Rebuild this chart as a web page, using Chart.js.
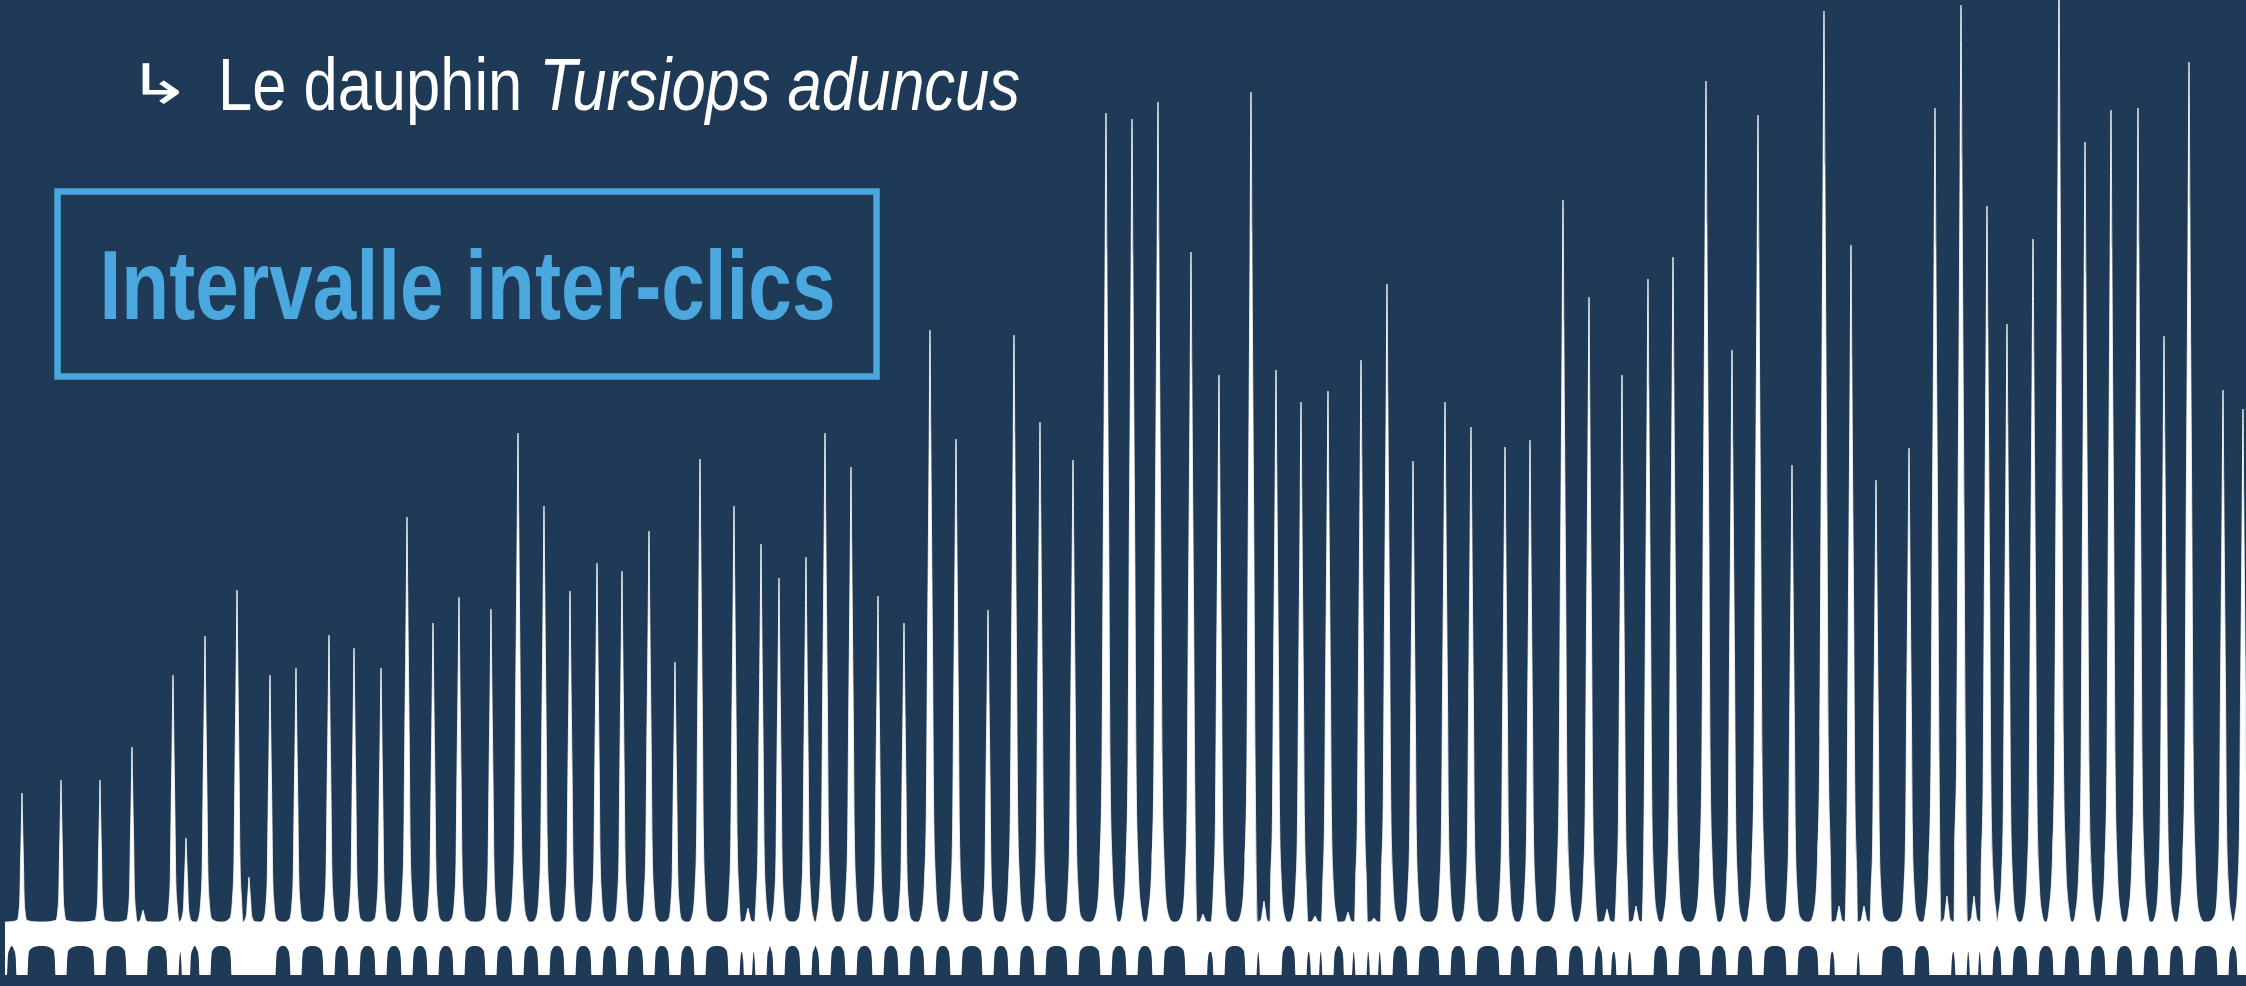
<!DOCTYPE html>
<html>
<head>
<meta charset="utf-8">
<script src="https://cdn.jsdelivr.net/npm/chart.js@4/dist/chart.umd.min.js"></script>
<style>
html, body { margin: 0; padding: 0; background: #1F3A56; overflow: hidden; }
</style>
</head>
<body>
<canvas id="clics" width="2246" height="986"></canvas>
<script>
// click train (time and amplitude, arbitrary units)
const clickTimes = [22, 61, 100, 132, 173, 205, 237, 270, 296, 329, 354, 381, 407, 433, 459, 491, 518, 544, 570, 597,
  622, 649, 675, 700, 734, 761, 779, 806, 825, 851, 878, 904, 930, 956, 988, 1014, 1040, 1073, 1106, 1132,
  1158, 1191, 1219, 1251, 1276, 1301, 1328, 1361, 1387, 1413, 1445, 1471, 1505, 1530, 1563, 1589, 1622, 1648, 1673, 1706,
  1732, 1758, 1792, 1824, 1851, 1876, 1909, 1935, 1961, 1987, 2007, 2033, 2059, 2085, 2111, 2138, 2164, 2189, 2223, 2243];
const clickAmps = [182, 195, 195, 228, 300, 339, 385, 300, 307, 340, 327, 307, 458, 352, 378, 366, 542, 469, 384, 412,
  404, 444, 313, 516, 469, 431, 397, 418, 542, 508, 379, 352, 645, 536, 365, 640, 553, 515, 862, 856,
  873, 723, 600, 883, 605, 573, 584, 615, 691, 514, 573, 548, 528, 535, 775, 678, 600, 696, 718, 894,
  625, 860, 510, 964, 730, 495, 527, 867, 970, 769, 651, 736, 990, 833, 865, 867, 639, 913, 585, 566];
// small secondary bumps between clicks
const echoTimes = [143, 186, 249, 748, 1203, 1264, 1315, 1348, 1374, 1607, 1636, 1839, 1864, 1947, 1974];
const echoAmps = [65, 137, 98, 67, 61, 74, 59, 63, 57, 66, 69, 69, 69, 79, 79];
const noiseFloor = 53;
const guardLevel = 29;
const archSkips = [249];

const titleText = 'Intervalle inter-clics';
const subtitleParts = ['Le dauphin ', 'Tursiops aduncus'];

const BG = '#1F3A56';
const BLUE = '#4AA8DF';
const NARROW = '"Liberation Sans Narrow", "Liberation Sans", Arial, sans-serif';

// pulse shape (offset from the click, fraction of its height above the floor)
const PULSE_DX = [0, 0.85, 1.7, 2.85, 4, 6, 9.5];
const PULSE_F = [1, 0.83, 0.66, 0.45, 0.2, 0.075, 0.012];

const events = clickTimes.map((t, i) => ({ t: t, a: clickAmps[i], w: Math.pow((clickAmps[i] - noiseFloor) / 800, 0.35), slot: 5.5 }))
  .concat(echoTimes.map((t, i) => ({ t: t, a: echoAmps[i], w: 0.6, slot: 4 })))
  .sort((p, q) => p.t - q.t);

const wave = [{ x: 5, y: noiseFloor }];
events.forEach((e, i) => {
  const prev = events[i - 1], next = events[i + 1];
  const limL = (prev ? (e.t - prev.t) / 2 : e.t - 5) - 0.5;
  const limR = (next ? (next.t - e.t) / 2 : 20) - 0.5;
  const h = e.a - noiseFloor;
  for (let k = PULSE_DX.length - 1; k >= 1; k--) {
    const dx = PULSE_DX[k] * e.w;
    if (dx < limL) wave.push({ x: e.t - dx, y: noiseFloor + h * PULSE_F[k] });
  }
  wave.push({ x: e.t, y: e.a });
  for (let k = 1; k < PULSE_DX.length; k++) {
    const dx = PULSE_DX[k] * e.w;
    if (dx < limR) wave.push({ x: e.t + dx, y: noiseFloor + h * PULSE_F[k] });
  }
  if (next) wave.push({ x: (e.t + next.t) / 2, y: noiseFloor });
});

// dark arches along the bottom, between the clicks
const guard = [{ x: 5, y: 0 }];
const anchors = [{ t: 5, slot: 2 }].concat(events);
for (let i = 0; i < anchors.length - 1; i++) {
  const L = anchors[i].t + anchors[i].slot;
  const R = anchors[i + 1].t - anchors[i + 1].slot;
  if (R - L < 3 || archSkips.includes(anchors[i].t)) continue;
  const mid = (L + R) / 2;
  if (R - L >= 7) {
    guard.push({ x: L, y: 0 }, { x: L + 0.8, y: guardLevel * 0.6 }, { x: L + 2.5, y: guardLevel * 0.87 },
      { x: mid, y: guardLevel }, { x: R - 2.5, y: guardLevel * 0.87 }, { x: R - 0.8, y: guardLevel * 0.6 }, { x: R, y: 0 });
  } else {
    guard.push({ x: L, y: 0 }, { x: L + 0.8, y: guardLevel * 0.5 }, { x: mid, y: guardLevel * 0.8 },
      { x: R - 0.8, y: guardLevel * 0.5 }, { x: R, y: 0 });
  }
}
guard.push({ x: 2246, y: 0 });

function fitText(ctx, text, x0, x1, y0, y1) {
  const m = ctx.measureText(text);
  const w = m.actualBoundingBoxLeft + m.actualBoundingBoxRight;
  const h = m.actualBoundingBoxAscent + m.actualBoundingBoxDescent;
  ctx.save();
  ctx.translate(x0, y0);
  ctx.scale((x1 - x0) / w, (y1 - y0) / h);
  ctx.fillText(text, m.actualBoundingBoxLeft, m.actualBoundingBoxAscent);
  ctx.restore();
}

const backdrop = {
  id: 'backdrop',
  beforeDraw(chart) {
    const ctx = chart.ctx;
    ctx.save();
    ctx.fillStyle = BG;
    ctx.fillRect(0, 0, chart.width, chart.height);
    ctx.restore();
  }
};

const labels = {
  id: 'labels',
  afterDraw(chart) {
    const ctx = chart.ctx;
    ctx.save();
    ctx.textBaseline = 'alphabetic';
    ctx.textAlign = 'left';
    ctx.fillStyle = '#FFFFFF';

    ctx.font = '60px "DejaVu Sans"';
    fitText(ctx, '\u21B3', 142, 180, 63, 105);

    // subtitle, upright then italic
    ctx.font = '74px ' + NARROW;
    const w1 = ctx.measureText(subtitleParts[0]).width;
    ctx.font = 'italic 74px ' + NARROW;
    const w2 = ctx.measureText(subtitleParts[1]).width;
    const sx = 802 / (w1 + w2);
    ctx.save();
    ctx.translate(218, 110);
    ctx.scale(sx, 1);
    ctx.font = '74px ' + NARROW;
    ctx.fillText(subtitleParts[0], 0, 0);
    ctx.font = 'italic 74px ' + NARROW;
    ctx.fillText(subtitleParts[1], w1, 0);
    ctx.restore();

    // boxed title
    ctx.strokeStyle = BLUE;
    ctx.lineWidth = 6.5;
    ctx.strokeRect(57.5, 191.5, 819, 185);
    ctx.fillStyle = BLUE;
    ctx.font = 'bold 99px ' + NARROW;
    const tw = ctx.measureText(titleText).width;
    ctx.save();
    ctx.translate(467.5, 319);
    ctx.scale(736 / tw, 1);
    ctx.textAlign = 'center';
    ctx.fillText(titleText, 0, 0);
    ctx.restore();
    ctx.restore();
  }
};

new Chart(document.getElementById('clics'), {
  type: 'line',
  data: {
    datasets: [
      {
        data: guard,
        order: 0,
        fill: 'start',
        backgroundColor: BG,
        borderColor: BG,
        borderWidth: 0,
        pointRadius: 0,
        cubicInterpolationMode: 'monotone'
      },
      {
        data: wave,
        order: 1,
        fill: 'start',
        backgroundColor: '#FFFFFF',
        borderColor: '#FFFFFF',
        borderWidth: 0.8,
        pointRadius: 0,
        cubicInterpolationMode: 'monotone'
      }
    ]
  },
  options: {
    responsive: false,
    animation: false,
    devicePixelRatio: 1,
    events: [],
    layout: { padding: { left: 5, right: 0, top: 0, bottom: 11 } },
    scales: {
      x: { type: 'linear', min: 5, max: 2246, display: false },
      y: { min: 0, max: 975, display: false }
    },
    plugins: {
      legend: { display: false },
      tooltip: { enabled: false }
    }
  },
  plugins: [backdrop, labels]
});
</script>
</body>
</html>
